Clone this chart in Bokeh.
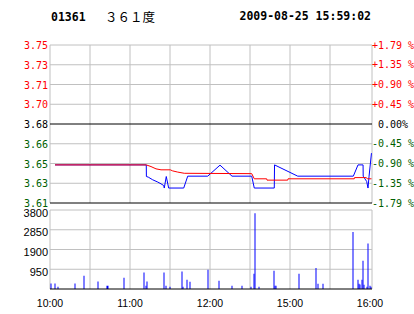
from bokeh.plotting import figure
from bokeh.models import Range1d
from bokeh.core.properties import value
from bokeh.embed import file_html
from bokeh.resources import INLINE

# ---------------- data ----------------
stock_code = "01361"
stock_name = "３６１度"
stamp = "2009-08-25 15:59:02"
prev_close = 3.68
pct_max = 1.79
price_labels = ["3.75", "3.73", "3.71", "3.70", "3.68", "3.66", "3.65", "3.63", "3.61"]
pct_labels = ["+1.79 %", "+1.35 %", "+0.90 %", "+0.45 %", "0.00%",
              "-0.45 %", "-0.90 %", "-1.35 %", "-1.79 %"]
time_ticks = [0, 60, 120, 180, 240]
time_labels = ["10:00", "11:00", "12:00", "15:00", "16:00"]
grid_minutes = [30, 60, 90, 120, 150, 180, 210]
vol_ticks = [950, 1900, 2850, 3800]
vol_labels = ["950", "1900", "2850", "3800"]

# trading minute index (10:00 = 0, lunch break removed)
price_min = [3.75, 72.2, 72.3, 73.7, 77.0, 80.8, 83.25, 85.3, 85.7, 87.2, 89.0, 100.3,
             103.3, 118.3, 127.5, 136.5, 151.3, 153.2, 168.2, 168.4, 185.8, 227.5,
             231.0, 234.8, 234.9, 237.5, 238.5, 239.3, 241.1]
price_val = [3.6459, 3.6459, 3.6362, 3.6357, 3.6335, 3.6316, 3.6301, 3.6287, 3.6266,
             3.6362, 3.6266, 3.6266, 3.6365, 3.6365, 3.6457, 3.6365, 3.6365, 3.6266,
             3.6266, 3.6459, 3.6365, 3.6365, 3.6459, 3.6459, 3.6365, 3.6321, 3.6266,
             3.6365, 3.6557]

avg_min = [3.75, 72.2, 75.75, 79.5, 83.25, 90.2, 92.0, 95.8, 100.7, 151.3, 153.2,
           162.5, 162.75, 178.3, 178.5, 228.2, 228.4, 237.0, 238.3, 241.1]
avg_val = [3.6459, 3.6459, 3.6445, 3.6426, 3.6418, 3.6418, 3.6409, 3.6399, 3.6389,
           3.6386, 3.6343, 3.6343, 3.6332, 3.6332, 3.6343, 3.6343, 3.6353, 3.6353,
           3.6343, 3.6343]

vol_min = [0.75, 3.75, 6.0, 18.75, 25.5, 36.0, 43.1, 55.5, 70.5, 72.0, 72.75, 85.5, 87.0,
           90.0, 99.0, 99.75, 102.75, 105.0, 118.5, 126.75, 136.5, 144.0, 150.75, 153.0,
           153.75, 156.75, 168.0, 168.75, 169.5, 186.75, 199.5, 201.0, 204.75, 227.25,
           231.0, 231.75, 232.5, 234.0, 234.75, 235.5, 237.75, 238.5, 240.0, 240.75]
vol_val = [270, 270, 110, 270, 640, 365, 160, 540, 795, 160, 365, 795, 160,
           110, 845, 110, 445, 350, 925, 400, 160, 160, 110, 735,
           3640, 110, 877, 160, 160, 735, 1005, 255, 255, 2745, 445,
           255, 220, 445, 1355, 205, 110, 2185, 160, 110]
vol_width = [0.75] * 6 + [1.5] + [0.75] * 37

# ---------------- layout constants (pixels) ----------------
W, H = 414, 314
LEFT_PX = 49.5          # chart left edge
PX_PER_MIN = 4.0 / 3.0
X_END = 241.5           # last minute on the chart (right edge)
P_TOP_PX, P_BOT_PX = 44.5, 202.5
V_TOP_PX, V_BOT_PX = 209.5, 288.5

step = prev_close * pct_max / 100.0 / 4.0
price_ticks = [prev_close + (4 - i) * step for i in range(9)]
p_top, p_bot = price_ticks[0], price_ticks[-1]
p_per_px = (p_top - p_bot) / (P_BOT_PX - P_TOP_PX)
v_top = vol_ticks[-1]
v_per_px = v_top / (V_BOT_PX - V_TOP_PX)

RED = "#FF0000"
GREEN = "#006000"
GRIDC = "#C0C0C0"
BLUE = "#0000FF"
label_colors = [RED] * 4 + ["black"] + [GREEN] * 4

x_range = Range1d(-LEFT_PX / PX_PER_MIN, (W - LEFT_PX) / PX_PER_MIN)
y_range = Range1d(p_bot - (H - P_BOT_PX) * p_per_px, p_top + P_TOP_PX * p_per_px)

p = figure(width=W, height=H, output_backend="svg", toolbar_location=None,
           x_axis_type=None, y_axis_type=None, x_range=x_range, y_range=y_range,
           min_border_left=0, min_border_right=0, min_border_top=0, min_border_bottom=0)
p.extra_y_ranges = {"vol": Range1d(0 - (H - V_BOT_PX) * v_per_px, v_top + V_TOP_PX * v_per_px)}
p.outline_line_color = None
p.background_fill_color = "white"
p.border_fill_color = "white"
p.xgrid.visible = False if p.xgrid else None

# ---- price panel frame & grid ----
vx = [0] + grid_minutes + [X_END]
p.segment(x0=vx, x1=vx, y0=[p_bot] * len(vx), y1=[p_top] * len(vx),
          line_color=GRIDC, line_width=1)
gray_rows = [t for i, t in enumerate(price_ticks) if i not in (4, 8)]
p.segment(x0=[0] * len(gray_rows), x1=[X_END] * len(gray_rows), y0=gray_rows, y1=gray_rows,
          line_color=GRIDC, line_width=1)
black_rows = [price_ticks[4], price_ticks[8]]
p.segment(x0=[0, 0], x1=[X_END, X_END], y0=black_rows, y1=black_rows,
          line_color="black", line_width=1)

p.line(price_min, price_val, line_color=BLUE, line_width=1)
p.line(avg_min, avg_val, line_color=RED, line_width=1)

# ---- volume panel frame & grid ----
p.segment(x0=vx, x1=vx, y0=[0] * len(vx), y1=[v_top] * len(vx),
          line_color=GRIDC, line_width=1, y_range_name="vol")
p.segment(x0=[0] * len(vol_ticks), x1=[X_END] * len(vol_ticks), y0=vol_ticks, y1=vol_ticks,
          line_color=GRIDC, line_width=1, y_range_name="vol")
p.vbar(x=vol_min, top=vol_val, width=vol_width, bottom=0, fill_color=BLUE,
       line_color=None, y_range_name="vol")
p.segment(x0=[0], x1=[X_END], y0=[0], y1=[0], line_color="black", line_width=1,
          y_range_name="vol")

# ---- texts ----
p.text(x=[0] * 9, y=price_ticks, text=price_labels, text_color=label_colors,
       x_offset=-2, text_align="right", text_baseline="middle",
       text_font=value("DejaVu Sans Mono"), text_font_size="10px")
p.text(x=[X_END] * 9, y=price_ticks, text=pct_labels, text_color=label_colors,
       x_offset=21, text_align="center", text_baseline="middle",
       text_font=value("DejaVu Sans Mono"), text_font_size="10px")

p.text(x=[0] * 4, y=vol_ticks, text=vol_labels, text_color="black",
       x_offset=-2, y_offset=2.5, text_align="right", text_baseline="middle",
       text_font=value("Liberation Sans"), text_font_size="11px", y_range_name="vol")
p.text(x=time_ticks, y=[0] * len(time_ticks), text=time_labels, text_color="black",
       y_offset=13.5, text_align="center", text_baseline="middle",
       text_font=value("Liberation Sans"), text_font_size="10.5px", y_range_name="vol")

p.text(x=[0], y=[p_top], text=[stock_code], x_offset=1, y_offset=-29,
       text_align="left", text_baseline="middle", text_font=value("DejaVu Sans Mono"),
       text_font_style="bold", text_font_size="11.5px", text_color="black")
p.text(x=[0], y=[p_top], text=[stock_name], x_offset=55, y_offset=-29,
       text_align="left", text_baseline="middle", text_font=value("Noto Sans CJK SC"),
       text_font_size="12.5px", text_color="black")
p.text(x=[X_END], y=[p_top], text=[stamp], x_offset=-1, y_offset=-29,
       text_align="right", text_baseline="middle", text_font=value("DejaVu Sans Mono"),
       text_font_style="bold", text_font_size="11.5px", text_color="black")

open("out.html", "w").write(file_html(p, INLINE))
